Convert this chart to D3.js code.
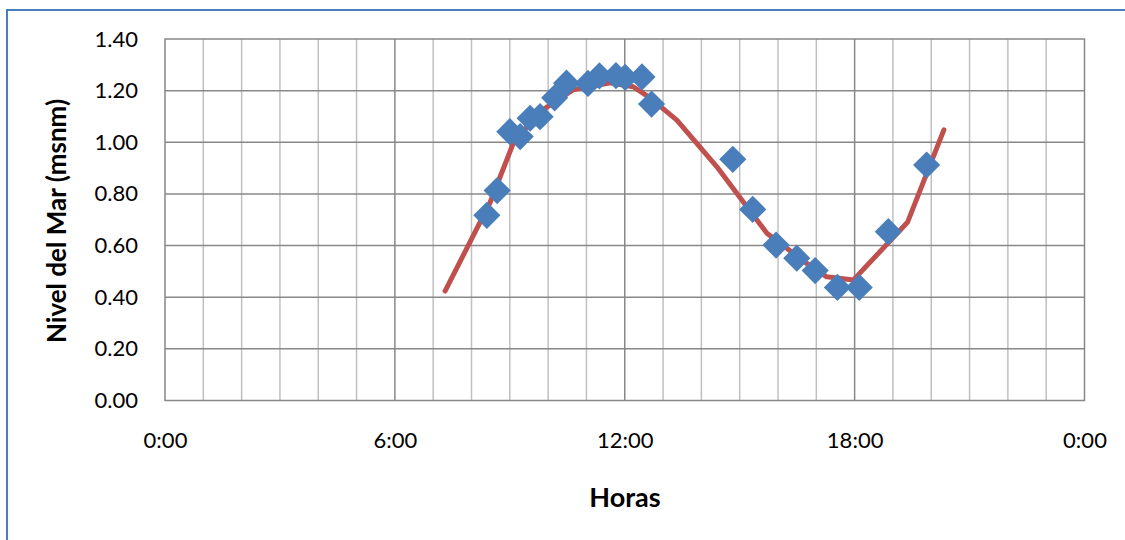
<!DOCTYPE html>
<html>

<head>
  <script src="https://cdn.jsdelivr.net/npm/d3@7"></script>
  <style>
    body {
      margin: 0;
      background: white;
    }

    text {
      font-family: Lato, "Open Sans", sans-serif;
    }
  </style>
</head>

<body>
  <script>
    // observed sea level (diamonds)
    const obsHours = [8.40, 8.67, 9.00, 9.27, 9.53, 9.79, 10.17, 10.48, 11.04, 11.34, 11.77, 12.01,
      12.45, 12.70, 14.82, 15.34, 15.95, 16.49, 16.97, 17.55, 18.12, 18.88, 19.88]
    const obsLevels = [0.717, 0.813, 1.041, 1.022, 1.093, 1.099, 1.172, 1.229, 1.228, 1.257, 1.258, 1.251,
      1.253, 1.148, 0.934, 0.740, 0.602, 0.551, 0.503, 0.438, 0.438, 0.654, 0.912]

    // predicted tide (red line)
    const tideHours = [7.31, 8.48, 9.10, 9.80, 10.65, 11.62, 12.22, 12.66, 13.36, 14.40, 15.09, 15.71,
      16.75, 17.27, 17.97, 19.38, 20.33]
    const tideLevels = [0.424, 0.765, 1.000, 1.120, 1.203, 1.230, 1.215, 1.172, 1.086, 0.906, 0.770, 0.648,
      0.531, 0.479, 0.467, 0.690, 1.048]

    const yTicks = [0, 0.2, 0.4, 0.6, 0.8, 1.0, 1.2, 1.4]
    const xTicks = [0, 6, 12, 18, 24]
    const xTickLabels = ['0:00', '6:00', '12:00', '18:00', '0:00']

    const width = 1125, height = 540
    const plot = { left: 165, top: 39, right: 1084.5, bottom: 400.5 }

    const svg = d3.select('body').append('svg')
      .attr('width', width)
      .attr('height', height)

    // chart frame (only top and left edges visible)
    svg.append('rect')
      .attr('x', 7).attr('y', 10)
      .attr('width', 1200).attr('height', 600)
      .attr('fill', 'white')
      .attr('stroke', '#4a7ebb')
      .attr('stroke-width', 2)

    const x = d3.scaleLinear().domain([0, 24]).range([plot.left, plot.right])
    const y = d3.scaleLinear().domain([0, 1.4]).range([plot.bottom, plot.top])

    // minor vertical grid (every hour)
    svg.append('g').selectAll('line')
      .data(d3.range(1, 24).filter(h => h % 6 !== 0))
      .join('line')
      .attr('x1', d => x(d)).attr('x2', d => x(d))
      .attr('y1', plot.top).attr('y2', plot.bottom)
      .attr('stroke', '#c0c0c0')
      .attr('stroke-width', 1.5)

    // major vertical grid
    svg.append('g').selectAll('line')
      .data(xTicks.slice(1, -1))
      .join('line')
      .attr('x1', d => x(d)).attr('x2', d => x(d))
      .attr('y1', plot.top).attr('y2', plot.bottom)
      .attr('stroke', '#888')
      .attr('stroke-width', 1.5)

    // horizontal grid
    svg.append('g').selectAll('line')
      .data(yTicks.slice(1, -1))
      .join('line')
      .attr('x1', plot.left).attr('x2', plot.right)
      .attr('y1', d => y(d)).attr('y2', d => y(d))
      .attr('stroke', '#888')
      .attr('stroke-width', 1.5)

    // plot border
    svg.append('rect')
      .attr('x', plot.left).attr('y', plot.top)
      .attr('width', plot.right - plot.left)
      .attr('height', plot.bottom - plot.top)
      .attr('fill', 'none')
      .attr('stroke', '#888')
      .attr('stroke-width', 1.5)

    // y axis labels
    const yAxis = svg.append('g')
      .attr('transform', `translate(${plot.left},0)`)
      .call(d3.axisLeft(y).tickValues(yTicks).tickFormat(d3.format('.2f')).tickSize(0).tickPadding(27))
    yAxis.select('.domain').remove()
    yAxis.selectAll('text')
      .attr('font-size', 22)
      .attr('fill', '#000')
      .style('font-family', 'Lato, sans-serif')

    // x axis labels
    const xAxis = svg.append('g')
      .attr('transform', `translate(0,${plot.bottom})`)
      .call(d3.axisBottom(x).tickValues(xTicks).tickFormat((d, i) => xTickLabels[i]).tickSize(0).tickPadding(32))
    xAxis.select('.domain').remove()
    xAxis.selectAll('text')
      .attr('font-size', 22)
      .attr('fill', '#000')
      .style('font-family', 'Lato, sans-serif')

    // axis titles
    svg.append('text')
      .attr('x', 625).attr('y', 507)
      .attr('text-anchor', 'middle')
      .attr('font-size', 27)
      .attr('font-weight', 'bold')
      .text('Horas')

    svg.append('text')
      .attr('transform', 'translate(66,221) rotate(-90)')
      .attr('text-anchor', 'middle')
      .attr('font-size', 26)
      .attr('font-weight', 'bold')
      .text('Nivel del Mar (msnm)')

    // tide line
    const line = d3.line()
      .x((d, i) => x(tideHours[i]))
      .y(d => y(d))

    svg.append('path')
      .attr('d', line(tideLevels))
      .attr('fill', 'none')
      .attr('stroke', '#c0504d')
      .attr('stroke-width', 5)
      .attr('stroke-linecap', 'round')
      .attr('stroke-linejoin', 'round')

    // observed diamonds
    const diamond = d3.symbol(d3.symbolSquare, 370)
    svg.append('g').selectAll('path')
      .data(obsLevels)
      .join('path')
      .attr('d', diamond)
      .attr('transform', (d, i) => `translate(${x(obsHours[i])},${y(d)}) rotate(45)`)
      .attr('fill', '#4a7ebb')
  </script>
</body>

</html>
